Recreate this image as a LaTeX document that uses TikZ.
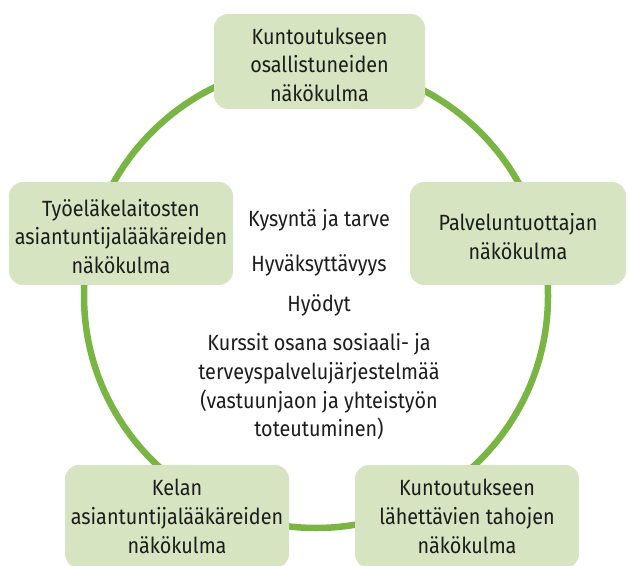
\documentclass[tikz,border=0pt]{standalone}
\usepackage{fontspec}
\setmainfont{Fira Sans}[FakeStretch=0.9]
\usepackage{xcolor}
\definecolor{Kela-green}{RGB}{120, 181, 67}
\definecolor{Kela-light}{RGB}{215, 228, 193}
\definecolor{Kela-text}{RGB}{28, 28, 28}
\newcommand{\headroom}{\rule{0pt}{23pt}}

\begin{document}
\begin{tikzpicture} [ % styles
            x=1pt, y=1pt, text=Kela-text,
            font=\fontsize{22}{28.7}\selectfont,
            view/.style = {rounded corners=14pt, fill=Kela-light, align=center, inner sep=0pt},
            view-wide/.style = {view, minimum width=224pt, minimum height=103pt},
            plain/.style = {draw=none, align=center}
        ]
        \useasboundingbox (0,0) rectangle (628,565);

        % macros
        \pgfmathsetmacro{\cx}{316}; % circle centre x
        \pgfmathsetmacro{\cy}{269}; % circle centre y
        \pgfmathsetmacro{\r}{232}; % circle radius

        % circle
        \draw [Kela-green, line width=6.5pt] (\cx,\cy) circle (\r);

        % top
        \node [view, minimum width=211pt, minimum height=95pt] (osall) at (319.5,503.5)
            {\headroom Kuntoutukseen\\osallistuneiden\\näkökulma};

        % left and right
        \node [view-wide] (tyoel) at (121,331.5)
            {\headroom Työeläkelaitosten\\asiantuntijalääkäreiden\\näkökulma};
        \node [view, minimum width=216pt, minimum height=103pt] (palv) at (518,331.5)
            {\headroom Palveluntuottajan\\näkökulma};

        % bottom
        \node [view-wide] (kela) at (177,48.5)
            {Kelan\\asiantuntijalääkäreiden\\näkökulma};
        \node [view-wide] (lahet) at (467,48.5)
            {Kuntoutukseen\\lähettävien tahojen\\näkökulma};

        % centre
        \node [plain, anchor=base] (kysynta) at (319,338.3) {Kysyntä ja tarve};
        \node [plain, anchor=base] (hyvaks) at (319,293.3) {Hyväksyttävyys};
        \node [plain, anchor=base] (hyodyt) at (319,253.3) {Hyödyt};
        \node [plain] (kurssit) at (319,178.3)
            {Kurssit osana sosiaali- ja\\terveyspalvelujärjestelmää\\(vastuunjaon ja yhteistyön\\toteutuminen)};

    \end{tikzpicture}
\end{document}
